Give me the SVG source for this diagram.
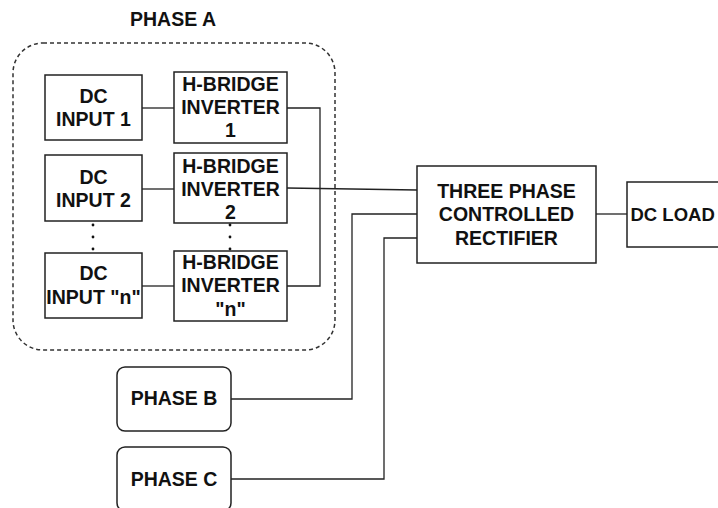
<svg xmlns="http://www.w3.org/2000/svg" width="718" height="508" viewBox="0 0 718 508">
<style>
.box{fill:#fff;stroke:#222;stroke-width:1.5}
.rbox{fill:#fff;stroke:#222;stroke-width:1.5}
.grp{fill:none;stroke:#333;stroke-width:1.5;stroke-dasharray:4 3}
.ln{fill:none;stroke:#222;stroke-width:1.3}
text{font-family:"Liberation Sans",Arial,sans-serif;font-weight:bold;font-size:19.5px;fill:#111;text-anchor:middle}
.dot{fill:#111}
</style>
<rect width="718" height="508" fill="#fff"/>
<g id="phaseA">
<rect class="grp" x="13" y="43" width="322" height="307" rx="30"/>
<text x="173" y="26">PHASE A</text>
</g>
<g id="connectors">
<path class="ln" d="M142 108H174"/>
<path class="ln" d="M142 189H174"/>
<path class="ln" d="M142 286H174"/>
<path class="ln" d="M287 108H320V286H287"/>
<path class="ln" d="M287 188L417 190"/>
<path class="ln" d="M231 399H352V214H417"/>
<path class="ln" d="M231 479H384V238H417"/>
<path class="ln" d="M596 214H627"/>
</g>
<g id="dcinput1"><rect class="box" x="45" y="75" width="97" height="65"/><text x="93.5" y="102.5">DC</text><text x="93.5" y="126">INPUT 1</text></g>
<g id="hbridge1"><rect class="box" x="174" y="72" width="113" height="71"/><text x="230.5" y="90.5">H-BRIDGE</text><text x="230.5" y="114">INVERTER</text><text x="230.5" y="136.5">1</text></g>
<g id="dcinput2"><rect class="box" x="45" y="155" width="97" height="66"/><text x="93.5" y="183.5">DC</text><text x="93.5" y="206.5">INPUT 2</text></g>
<g id="hbridge2"><rect class="box" x="174" y="153" width="113" height="70"/><text x="230.5" y="172.5">H-BRIDGE</text><text x="230.5" y="195.5">INVERTER</text><text x="230.5" y="218.5">2</text></g>
<g id="dots">
<circle class="dot" cx="93" cy="225" r="1.4"/><circle class="dot" cx="93" cy="237" r="1.4"/><circle class="dot" cx="93" cy="249" r="1.4"/>
<circle class="dot" cx="230" cy="225" r="1.4"/><circle class="dot" cx="230" cy="237" r="1.4"/><circle class="dot" cx="230" cy="249" r="1.4"/>
</g>
<g id="dcinputn"><rect class="box" x="45" y="253" width="97" height="65"/><text x="93.5" y="280">DC</text><text x="93.5" y="303.5">INPUT "n"</text></g>
<g id="hbridgen"><rect class="box" x="174" y="251" width="113" height="70"/><text x="230.5" y="268.5">H-BRIDGE</text><text x="230.5" y="292">INVERTER</text><text x="230.5" y="315.5">"n"</text></g>
<g id="rectifier"><rect class="box" x="417" y="166" width="179" height="97"/><text x="506.5" y="197.5">THREE PHASE</text><text x="506.5" y="221">CONTROLLED</text><text x="506.5" y="244.5">RECTIFIER</text></g>
<g id="dcload"><rect class="box" x="627" y="182" width="100" height="65"/><text x="630.5" y="221" style="text-anchor:start;font-size:18.5px">DC LOAD</text></g>
<g id="phaseB"><rect class="rbox" x="117" y="367" width="114" height="64" rx="8"/><text x="174" y="405">PHASE B</text></g>
<g id="phaseC"><rect class="rbox" x="117" y="447" width="114" height="64" rx="8"/><text x="174" y="485.5">PHASE C</text></g>
</svg>
